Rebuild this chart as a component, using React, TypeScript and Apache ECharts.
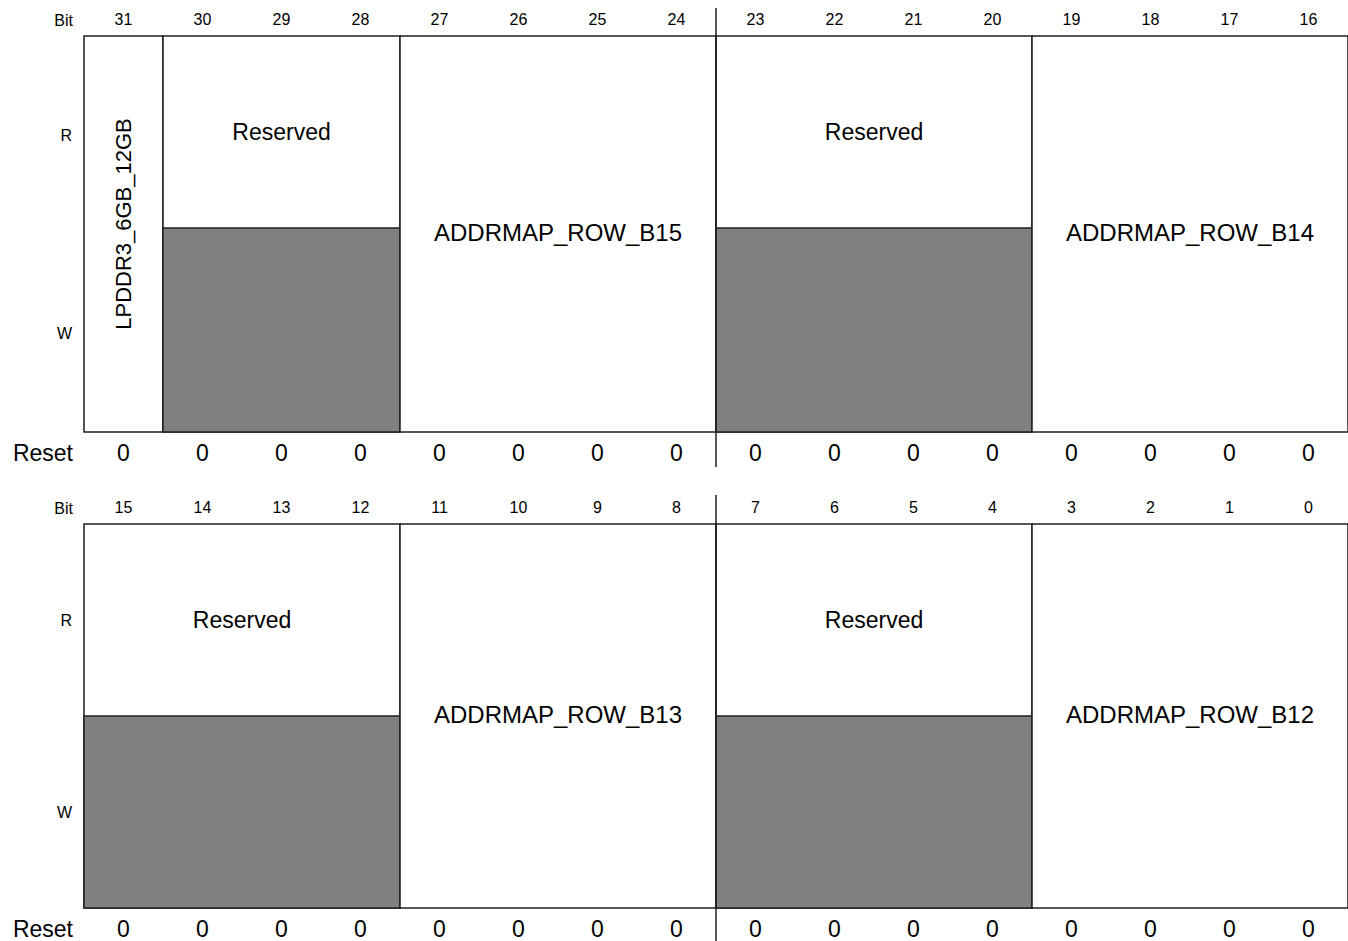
import React, { useEffect, useRef } from 'react';
import * as echarts from 'echarts';

const bitLabelsHigh = ['31', '30', '29', '28', '27', '26', '25', '24', '23', '22', '21', '20', '19', '18', '17', '16'];
const bitLabelsLow = ['15', '14', '13', '12', '11', '10', '9', '8', '7', '6', '5', '4', '3', '2', '1', '0'];
const resetHigh = [0, 0, 0, 0, 0, 0, 0, 0, 0, 0, 0, 0, 0, 0, 0, 0];
const resetLow = [0, 0, 0, 0, 0, 0, 0, 0, 0, 0, 0, 0, 0, 0, 0, 0];
const rowLabels = ['W', 'R'];

const highFieldNames = ['LPDDR3_6GB_12GB', 'Reserved', 'ADDRMAP_ROW_B15', 'Reserved', 'ADDRMAP_ROW_B14'];
const highFieldMsb = [31, 30, 27, 23, 19];
const highFieldLsb = [31, 28, 24, 20, 16];
const highFieldReserved = [false, true, false, true, false];

const lowFieldNames = ['Reserved', 'ADDRMAP_ROW_B13', 'Reserved', 'ADDRMAP_ROW_B12'];
const lowFieldMsb = [15, 11, 7, 3];
const lowFieldLsb = [12, 8, 4, 0];
const lowFieldReserved = [true, false, true, false];

const FONT = 'Liberation Sans, Arial, Helvetica, sans-serif';
const LINE = '#231f20';
const GRAY = '#808080';

type Reg = {
  base: number;
  bits: string[];
  reset: number[];
  names: string[];
  msb: number[];
  lsb: number[];
  reserved: boolean[];
  split: number;
  top: number;
  height: number;
  divUp: number;
  divDown: number;
};

const regs: Reg[] = [
  {
    base: 31, bits: bitLabelsHigh, reset: resetHigh, names: highFieldNames, msb: highFieldMsb,
    lsb: highFieldLsb, reserved: highFieldReserved, split: 204 / 396, top: 36, height: 396, divUp: 28, divDown: 35,
  },
  {
    base: 15, bits: bitLabelsLow, reset: resetLow, names: lowFieldNames, msb: lowFieldMsb,
    lsb: lowFieldLsb, reserved: lowFieldReserved, split: 0.5, top: 524, height: 384, divUp: 29, divDown: 40,
  },
];

function buildOption() {
  const grid: any[] = [];
  const xAxis: any[] = [];
  const yAxis: any[] = [];
  const series: any[] = [];
  regs.forEach((r, g) => {
    grid.push({ left: 84, top: r.top, width: 1264, height: r.height, containLabel: false, outerBoundsMode: 'none' });
    xAxis.push({
      gridIndex: g, type: 'category', data: r.bits, position: 'top', boundaryGap: true,
      axisLine: { show: false }, axisTick: { show: false }, splitLine: { show: false },
      axisLabel: { interval: 0, fontSize: 16, margin: 9, color: '#000', fontFamily: FONT },
    });
    xAxis.push({
      gridIndex: g, type: 'category', data: r.bits, position: 'bottom', boundaryGap: true,
      axisLine: { show: false }, axisTick: { show: false }, splitLine: { show: false },
      axisLabel: {
        interval: 0, fontSize: 23, margin: 9, color: '#000', fontFamily: FONT,
        formatter: (_v: string, idx: number) => String(r.reset[idx]),
      },
    });
    yAxis.push({ gridIndex: g, type: 'value', min: 0, max: 1, show: false, position: 'right' });
    yAxis.push({
      gridIndex: g, type: 'category', data: rowLabels, boundaryGap: true, position: 'left',
      axisLine: { show: false }, axisTick: { show: false }, splitLine: { show: false },
      axisLabel: { fontSize: 16, margin: 12, color: '#000', fontFamily: FONT },
    });
    series.push({
      type: 'custom',
      xAxisIndex: 2 * g,
      yAxisIndex: 2 * g,
      data: r.names.map((_n, i) => [i, 0]),
      renderItem: (params: any, api: any) => {
        const i = params.dataIndex;
        const i0 = r.base - r.msb[i];
        const i1 = r.base - r.lsb[i];
        const band = api.size([1, 0])[0];
        const p0 = api.coord([i0, 1]);
        const p1 = api.coord([i1, 0]);
        const ps = api.coord([i0, r.split]);
        const x0 = p0[0] - band / 2;
        const x1 = p1[0] + band / 2;
        const yt = p0[1];
        const yb = p1[1];
        const ys = ps[1];
        const cx = (x0 + x1) / 2;
        const children: any[] = [
          {
            type: 'rect',
            shape: { x: x0, y: yt, width: x1 - x0, height: yb - yt },
            style: { fill: '#fff', stroke: LINE, lineWidth: 1.5 },
          },
        ];
        if (r.reserved[i]) {
          children.push({
            type: 'rect',
            shape: { x: x0, y: ys, width: x1 - x0, height: yb - ys },
            style: { fill: GRAY, stroke: LINE, lineWidth: 1.5 },
          });
          children.push({
            type: 'text',
            x: cx,
            y: (yt + ys) / 2,
            style: {
              text: r.names[i], align: 'center', verticalAlign: 'middle',
              fontSize: 23, fontFamily: FONT, fill: '#000',
            },
          });
        } else if (r.msb[i] === r.lsb[i]) {
          children.push({
            type: 'text',
            x: cx,
            y: (yt + yb) / 2 - 10,
            rotation: Math.PI / 2,
            style: {
              text: r.names[i], align: 'center', verticalAlign: 'middle',
              fontSize: 22, fontFamily: FONT, fill: '#000',
            },
          });
        } else {
          children.push({
            type: 'text',
            x: cx,
            y: (yt + yb) / 2 - 2,
            style: {
              text: r.names[i], align: 'center', verticalAlign: 'middle',
              fontSize: 24, fontFamily: FONT, fill: '#000',
            },
          });
        }
        return { type: 'group', children };
      },
    });
    series.push({
      type: 'custom',
      xAxisIndex: 2 * g,
      yAxisIndex: 2 * g,
      data: [[0, 0]],
      renderItem: (_params: any, api: any) => {
        const band = api.size([1, 0])[0];
        const pt = api.coord([8, 1]);
        const pb = api.coord([8, 0]);
        const x = pt[0] - band / 2;
        return {
          type: 'line',
          shape: { x1: x, y1: pt[1] - r.divUp, x2: x, y2: pb[1] + r.divDown },
          style: { stroke: LINE, lineWidth: 1.5 },
        };
      },
    });
  });

  const graphic: any[] = [];
  regs.forEach((r) => {
    graphic.push({
      type: 'text', x: 73, y: r.top - 16, style: {
        text: 'Bit', align: 'right', verticalAlign: 'middle', fontSize: 16, fontFamily: FONT, fill: '#000',
      },
    });
    graphic.push({
      type: 'text', x: 73, y: r.top + r.height + 21, style: {
        text: 'Reset', align: 'right', verticalAlign: 'middle', fontSize: 23, fontFamily: FONT, fill: '#000',
      },
    });
  });

  return {
    animation: false,
    backgroundColor: '#fff',
    grid,
    xAxis,
    yAxis,
    series,
    graphic,
  };
}

export default function App() {
  const ref = useRef<HTMLDivElement>(null);
  useEffect(() => {
    if (!ref.current) return;
    const chart = echarts.init(ref.current, undefined, { renderer: 'svg' });
    chart.setOption(buildOption() as any);
    return () => chart.dispose();
  }, []);
  return (
    <div
      ref={ref}
      style={{ position: 'fixed', left: 0, top: 0, width: 1348, height: 941, background: '#fff' }}
    />
  );
}
